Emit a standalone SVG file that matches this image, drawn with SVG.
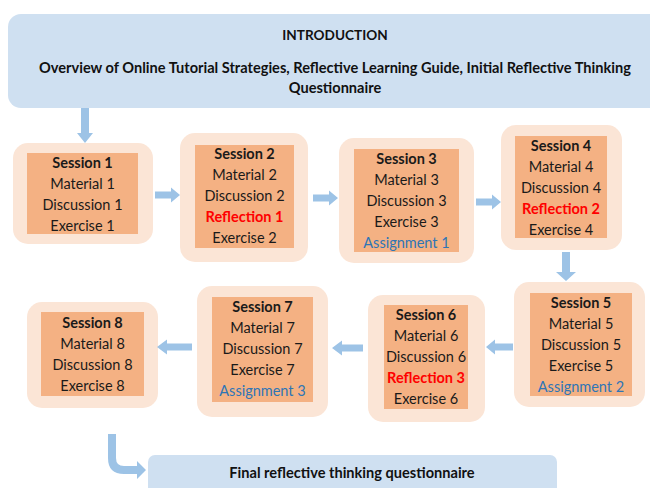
<svg xmlns="http://www.w3.org/2000/svg" width="650" height="488" viewBox="0 0 650 488">
<style>
text{font-family:Lato,"Open Sans","Liberation Sans",sans-serif;text-anchor:middle;fill:#1a1a1a;font-size:14.5px}
.h{font-weight:bold}
.r{fill:#ff0000;font-weight:bold}
.b{fill:#2e75b6}
.hd{font-weight:bold;font-size:14.6px;fill:#111}
.t{font-weight:bold;font-size:13.6px;fill:#111}
.outer{fill:#fbe5d6}
.inner{fill:#f4b183}
.blue{fill:#cfe0f1}
.arr{fill:#9dc3e6}
</style>
<rect width="650" height="488" fill="#ffffff"/>
<g id="intro">
<rect class="blue" x="8" y="14" width="660" height="94" rx="13"/>
<text class="t" x="335" y="40">INTRODUCTION</text>
<text class="hd" x="335" y="73">Overview of Online Tutorial Strategies, Reflective Learning Guide, Initial Reflective Thinking</text>
<text class="hd" x="335" y="93">Questionnaire</text>
</g>
<g id="session1">
<rect class="outer" x="13" y="143" width="140" height="101" rx="15"/>
<rect class="inner" x="27" y="153" width="111" height="81"/>
<text class="h" x="82.5" y="168">Session 1</text>
<text x="82.5" y="189">Material 1</text>
<text x="82.5" y="210">Discussion 1</text>
<text x="82.5" y="231">Exercise 1</text>
</g>
<g id="session2">
<rect class="outer" x="180" y="133" width="128" height="129" rx="15"/>
<rect class="inner" x="195" y="145" width="99" height="103"/>
<text class="h" x="244.5" y="159">Session 2</text>
<text x="244.5" y="180">Material 2</text>
<text x="244.5" y="201">Discussion 2</text>
<text class="r" x="244.5" y="222">Reflection 1</text>
<text x="244.5" y="243">Exercise 2</text>
</g>
<g id="session3">
<rect class="outer" x="339" y="138" width="135" height="125" rx="15"/>
<rect class="inner" x="354" y="149" width="105" height="103"/>
<text class="h" x="406.5" y="164">Session 3</text>
<text x="406.5" y="185">Material 3</text>
<text x="406.5" y="206">Discussion 3</text>
<text x="406.5" y="227">Exercise 3</text>
<text class="b" x="406.5" y="248">Assignment 1</text>
</g>
<g id="session4">
<rect class="outer" x="501" y="125" width="121" height="125" rx="15"/>
<rect class="inner" x="515" y="136" width="92" height="102"/>
<text class="h" x="561" y="151">Session 4</text>
<text x="561" y="172">Material 4</text>
<text x="561" y="193">Discussion 4</text>
<text class="r" x="561" y="214">Reflection 2</text>
<text x="561" y="235">Exercise 4</text>
</g>
<g id="session5">
<rect class="outer" x="514" y="282" width="131" height="125" rx="15"/>
<rect class="inner" x="530" y="293" width="102" height="103"/>
<text class="h" x="581" y="308">Session 5</text>
<text x="581" y="329">Material 5</text>
<text x="581" y="350">Discussion 5</text>
<text x="581" y="371">Exercise 5</text>
<text class="b" x="581" y="392">Assignment 2</text>
</g>
<g id="session6">
<rect class="outer" x="368" y="295" width="117" height="127" rx="15"/>
<rect class="inner" x="384" y="305" width="84" height="104"/>
<text class="h" x="426" y="320">Session 6</text>
<text x="426" y="341">Material 6</text>
<text x="426" y="362">Discussion 6</text>
<text class="r" x="426" y="383">Reflection 3</text>
<text x="426" y="404">Exercise 6</text>
</g>
<g id="session7">
<rect class="outer" x="197" y="286" width="131" height="131" rx="15"/>
<rect class="inner" x="212" y="297" width="101" height="105"/>
<text class="h" x="262.5" y="312">Session 7</text>
<text x="262.5" y="333">Material 7</text>
<text x="262.5" y="354">Discussion 7</text>
<text x="262.5" y="375">Exercise 7</text>
<text class="b" x="262.5" y="396">Assignment 3</text>
</g>
<g id="session8">
<rect class="outer" x="27" y="302" width="131" height="106" rx="15"/>
<rect class="inner" x="41" y="312" width="103" height="84"/>
<text class="h" x="92.5" y="328">Session 8</text>
<text x="92.5" y="349">Material 8</text>
<text x="92.5" y="370">Discussion 8</text>
<text x="92.5" y="391">Exercise 8</text>
</g>
<g id="final">
<rect class="blue" x="148" y="455" width="409" height="50" rx="7"/>
<text class="hd" x="352" y="478">Final reflective thinking questionnaire</text>
</g>
<g id="connectors">
<path class="arr" d="M81 108H89V133H93L85 143L77 133H81Z"/>
<path class="arr" d="M155 191.5H171V187.5L180 195L171 202.5V198.5H155Z"/>
<path class="arr" d="M313 194.5H329V190.5L338 198L329 205.5V201.5H313Z"/>
<path class="arr" d="M476 198.5H492V194.5L501 202L492 209.5V205.5H476Z"/>
<path class="arr" d="M562 252H570V272H576L566 281L556 272H562Z"/>
<path class="arr" d="M513 343.5H495V339.5L486 347L495 354.5V350.5H513Z"/>
<path class="arr" d="M363 344.5H342V340.5L332 348L342 355.5V351.5H363Z"/>
<path class="arr" d="M192 343.5H167V339.5L157 347L167 354.5V350.5H192Z"/>
<path class="arr" d="M108 434H116V458Q116 466 124 466H137V461L146 470L137 479V474H124Q108 474 108 458Z"/>
</g>
</svg>
